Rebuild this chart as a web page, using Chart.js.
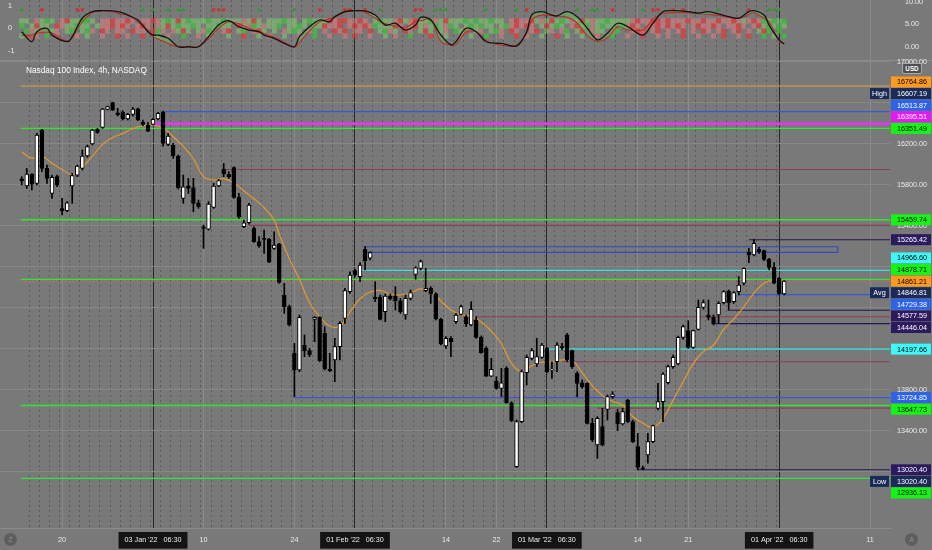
<!DOCTYPE html>
<html lang="pt-BR">
<head>
<meta charset="utf-8">
<title>Nasdaq 100 Index, 4h</title>
<script src="https://cdn.jsdelivr.net/npm/chart.js@4.4.1/dist/chart.umd.min.js"></script>
<style>
  html, body { margin:0; padding:0; width:932px; height:550px; overflow:hidden; background:#797979; font-family:'Liberation Sans', Arial, sans-serif; }
  canvas { position:absolute; left:0; }
  #osc { top:0; }
  #main { top:50px; }
  #sep { position:absolute; left:0; top:60px; width:932px; height:1px; background:#8c8c8c; }
  #titulo { position:absolute; left:26px; top:65px; color:#fff; font-size:8.3px; line-height:10px; white-space:nowrap; }
  #usd { position:absolute; left:902px; top:63px; width:18px; height:9px; border:1px solid #a9a9a9; border-radius:2px; background:#505050; color:#fff; font-size:6.3px; font-weight:bold; line-height:9px; text-align:center; }
  .ico { position:absolute; width:13px; height:13px; border-radius:50%; background:#5e5e5e; color:#8f8f8f; font-size:7px; line-height:13px; text-align:center; }
</style>
</head>
<body>
<canvas id="osc" width="932" height="60"></canvas>
<div id="sep"></div>
<canvas id="main" width="932" height="500"></canvas>
<div id="titulo">Nasdaq 100 Index, 4h, NASDAQ</div>
<div id="usd">USD</div>
<div class="ico" style="left:4px;top:533px">Z</div>
<div class="ico" style="left:905px;top:533px">A</div>
<script>
// --- Candles de 4h, índice = número da barra ---
const abertura = [
  15860,15789,15903,15815,16335,15961,15717,15880,15568,15548,
  15789,15896,15961,16082,16199,16342,16361,16537,16602,16504,
  16508,16443,16488,16543,16410,16384,16390,16443,16511,16195,
  16189,16082,15669,15789,15773,15626,15392,15369,15581,15789,
  15955,15903,15968,15678,15392,15431,15376,15246,15278,15269,
  15181,15223,14726,14612,14156,13994,14235,14183,14488,14508,
  14352,14004,14092,14222,14498,14758,14963,14905,15171,15084,
  14703,14703,14563,14716,14716,14670,14531,14693,14927,14986,
  14768,14791,14736,14492,14228,14303,14466,14537,14514,14433,
  14482,14313,14205,13935,13887,13815,14010,13675,13051,13490,
  13968,14108,14053,14118,14205,13994,14075,14222,14336,14183,
  13962,13870,13864,13474,13262,13441,13610,13734,13578,13467,
  13701,13490,13246,13040,13165,13295,13620,13685,13870,14027,
  14053,14313,14378,14215,14391,14605,14531,14508,14531,14651,
  14765,14661,14758,14840,15142,15116,15175,15158,15074,14996,
  14888,14736
];
const maxima = [
  15880,15961,15912,16303,16342,15994,15896,15896,15669,15636,
  15912,15994,16140,16189,16342,16351,16547,16569,16607.19,16547,
  16524,16498,16556,16550,16433,16407,16449,16508,16521,16303,
  16205,16092,15896,15864,15864,15652,15408,15636,15815,15854,
  16010,15929,15977,15717,15457,15620,15392,15295,15360,15278,
  15343,15230,14839,14628,14254,14530,14336,14205,14514,14514,
  14417,14157,14303,14466,14791,14953,14976,15041,15197,15148,
  14856,14726,14736,14736,14807,14693,14726,14775,15002,15067,
  14986,14807,14749,14498,14319,14319,14547,14628,14531,14661,
  14514,14326,14222,14108,13929,14010,14027,13685,13506,13994,
  14140,14205,14303,14254,14215,14075,14261,14254,14352,14189,
  13978,13897,13870,13522,13539,13620,13750,13783,13610,13620,
  13708,13506,13376,13058,13376,13457,13864,13968,14043,14140,
  14326,14433,14475,14384,14677,14677,14677,14531,14661,14768,
  14775,14758,14905,14992,15181,15265.42,15191,15165,15083,15041,
  14898,14866
];
const minima = [
  15799,15766,15750,15799,15929,15815,15669,15782,15506,15538,
  15620,15880,15945,16069,16189,16303,16351,16530,16524,16472,
  16433,16433,16472,16426,16378,16319,16384,16433,16179,16182,
  16059,15760,15620,15717,15538,15571,15181,15360,15571,15782,
  15880,15864,15669,15473,15382,15418,15239,15191,15132,15041,
  15171,14839,14547,14423,13734,13978,14124,14124,14270,14075,
  13994,13978,13880,14092,14449,14742,14905,14856,14970,15067,
  14661,14482,14466,14677,14579,14547,14488,14677,14879,14970,
  14758,14644,14482,14238,14205,14124,14449,14531,14417,14423,
  14303,14157,13929,13929,13806,13734,13669,13490,13044,13480,
  13848,14092,14027,14108,13968,13913,13978,14189,14075,14010,
  13734,13815,13467,13295,13132,13253,13506,13718,13402,13457,
  13480,13285,13020.40,13020.40,13084,13285,13604,13490,13858,14010,
  14043,14293,14205,14205,14384,14586,14482,14433,14449,14638,
  14579,14644,14726,14823,15041,15106,15132,15061,14970,14833,
  14726,14726
];
const fechamento = [
  15840,15906,15808,16286,15961,15864,15873,15799,15548,15626,
  15890,15984,16082,16173,16335,16312,16540,16563,16530,16485,
  16443,16488,16540,16433,16390,16325,16439,16498,16205,16277,
  16082,15773,15782,15766,15620,15587,15376,15613,15789,15841,
  15906,15880,15678,15490,15431,15604,15246,15204,15269,15047,
  15213,14849,14612,14433,13994,14508,14183,14144,14508,14085,
  14004,13988,14222,14449,14768,14921,14921,15018,15061,15139,
  14690,14488,14716,14690,14670,14563,14693,14749,14992,15051,
  14791,14736,14492,14248,14303,14270,14531,14612,14443,14586,
  14313,14163,13935,14001,13815,13870,13675,13500,13490,13978,
  14118,14183,14124,14238,13978,14001,14238,14209,14092,14027,
  13864,13831,13474,13311,13522,13262,13734,13760,13467,13588,
  13490,13295,13044,13030,13295,13451,13685,13955,14027,14118,
  14313,14417,14215,14378,14605,14651,14508,14443,14644,14758,
  14651,14749,14823,14986,15116,15230,15148,15074,14996,14840,
  14736,14861.21
];

// média móvel laranja (barra, valor)
const emaBarra = [0,2,4,6,8,10,12,14,16,18,20,22,24,26,28,30,32,34,36,38,40,42,44,46,48,50,51,53,55,57,59,61,63,65,67,69,71,73,75,77,79,81,83,85,87,89,91,93,95,97,99,101,103,105,107,109,111,113,115,117,119,121,123,125,127,129,131,133,135,137,139,141,143,145,147,149,151];
const emaValor = [16124,16060,16080,16010,15950,15900,15975,16080,16195,16262,16300,16348,16378,16382,16355,16270,16175,16055,15880,15847,15862,15820,15740,15665,15578,15455,15320,15080,14878,14650,14514,14423,14420,14560,14690,14755,14770,14732,14726,14745,14785,14758,14668,14580,14535,14518,14462,14372,14250,14060,13975,14035,14068,14075,14092,14090,13965,13842,13745,13688,13653,13540,13475,13435,13520,13700,13880,14059,14173,14238,14390,14490,14610,14745,14840,14872,14856];

// níveis horizontais: preço, barra de início, tipo
const nivelPreco  = [16764.86, 16513.87, 16395.51, 16351.49, 15950, 15459.74, 15405, 15265.42, 14966.60, 14878.71, 14861.21, 14729.38, 14577.59, 14514, 14446.04, 14197.66, 14075, 13724.85, 13647.73, 13622, 13020.40, 12936.13];
const nivelInicio = [-0.2, 28, 26, -0.2, 40, -0.2, 45, 144, 67, -0.2, -0.2, 142, 140, 90, 137, 104, 107, 54, -0.2, 114, 122, -0.2];
const nivelTipo   = ['laranja','azul','magenta','verde','vinho','verde','vinho','roxo','ciano','verde','atual','azul','roxo','vinho','roxo','ciano','vinho','azul','verde','vinho','roxo','verde'];

// retângulo azul (barras e preços)
const caixaBarras = [68, 161.6];
const caixaPrecos = [15197, 15142];

// etiquetas da escala de preço
const etiquetaPreco = [16764.86, 16607.19, 16513.87, 16395.51, 16351.49, 15459.74, 15265.42, 14966.60, 14878.71, 14861.21, 14846.81, 14729.38, 14577.59, 14446.04, 14197.66, 13724.85, 13647.73, 13020.40, 13020.40, 12936.13];
const etiquetaTipo  = ['laranja','marinho','azul','magenta','verde','verde','roxo','ciano','verde','laranja','marinho','azul','roxo','roxo','ciano','azul','verde','roxo','marinho','verde'];
const etiquetaTag   = ['', 'High', '', '', '', '', '', '', '', '', 'Avg', '', '', '', '', '', '', '', 'Low', ''];
const precoAtual = 14861.21;

// eixos
const yTicks = [13000, 13400, 13800, 14200, 14600, 15000, 15400, 15800, 16200, 16600, 17000];
const xTickIdx = [8, 26, 36, 54, 66, 84, 94, 104, 122, 132, 150, 168];
const xTickTexto = ['20', "03 Jan '22   06:30", '10', '24', "01 Feb '22   06:30", '14', '22', "01 Mar '22   06:30", '14', '21', "01 Apr '22   06:30", '11'];
const mesIdx = [26, 66, 104, 150];
const oscTicksEsq = [-1, 0, 1];
const oscTicksDir = [0, 5, 10];

// oscilador (barra, linha rápida, linha lenta)
const oscBarra  = [0,2,3,5,6,9,10,12,14,16,18,20,21,23,25,26,27,29,31,33,35,37,39,41,43,45,47,48,50,52,54,55,57,59,61,62,64,66,68,70,72,74,76,78,79,81,83,85,86,88,90,92,95,98,100,101,103,105,106,108,110,112,114,116,118,120,123,125,127,129,132,134,136,138,140,142,144,145,147,148,150,151];
const oscRapida = [-0.14,-0.58,-0.14,0.01,-0.29,-0.58,-0.36,0.45,0.74,0.78,0.77,0.69,0.59,0.37,-0.14,-0.29,-0.29,-0.43,-0.8,-0.8,-0.8,-0.36,0.15,0.34,0.08,-0.07,-0.14,-0.29,-0.43,-0.65,-0.8,-0.36,0.08,0.37,0.3,0.52,0.74,0.78,0.77,0.59,0.15,0.23,-0.07,0.15,0.49,0.37,-0.29,-0.72,-0.58,0.01,-0.14,-0.58,-0.65,-0.77,-0.14,0.59,0.74,0.59,0.55,0.74,0.52,0.01,-0.5,-0.21,0.23,0.08,-0.29,0.23,0.74,0.78,0.74,0.67,0.74,0.64,0.52,0.45,0.74,0.78,0.59,0.15,-0.5,-0.68];
const oscLenta  = [-0.3,-0.3,-0.2,-0.15,-0.2,-0.55,-0.4,0.3,0.7,0.78,0.74,0.62,0.6,0.3,-0.1,-0.35,-0.45,-0.65,-0.8,-0.8,-0.8,-0.45,0.02,0.3,0.2,0.02,-0.15,-0.22,-0.4,-0.6,-0.83,-0.6,-0.1,0.3,0.42,0.5,0.72,0.78,0.72,0.45,0.2,0.12,0.05,0.3,0.35,0.4,-0.55,-0.72,-0.7,-0.15,-0.15,-0.55,-0.72,-0.72,-0.2,0.4,0.6,0.57,0.55,0.5,0.25,-0.3,-0.55,-0.4,0.08,-0.05,-0.07,0.4,0.66,0.7,0.7,0.66,0.62,0.59,0.5,0.45,0.62,0.7,0.45,0.3,-0.55,-0.65];
const marcaAlta  = [0,24,26,29,31,32,47,54,71,82,83,84,92,98,110,113,114,123,138,148,149,150];
const marcaBaixa = [4,11,12,38,39,40,59,64,65,68,78,79,100,117,125,126,129,131,144];
// mapa de calor (G/g verde, R/r vermelho, . vazio), uma letra por barra
const heatLinhas = [
  ['gg.rgGg.rR','ggGGg.rrRr','rRr.rrRrgG','gRgGgggGgg','GgggrgRg.g','ggGgg.gGgg','gRrRRrrRr.','gGggrRgrRg','gGrgRgggGg','GggGgg.rRr','rRgrgRgGgr','gRgrggGggg','grRrrRRrRr','rrRrrRrrRr','rRrgrRrGgG','gG'].join(''),
  ['G.gRgg.Rrg','gGgg.grrRr','Rr.rRr.rgR','gGggGg.ggG','gg.RgrGgrg','gG.ggGg.gg','RrrR.rRrRr','GgggRr.gRg','rgGgrGg.gG','gGgg.gGrRr','Rr.gRgGg.r','RgGrgGgg.G','rRr.rrRrRr','Rr.rRrrRr.','rrRr.rRgGg','Gg'].join(''),
  ['.GrgR.gr.g','G.gGr.Rr.r','r.Rrr.RGr.','rgRg.grGg.','rR.gG.rRg.','g.rgGg.rG.','r.RrR.rr.R','.gGrg.Rr.g','Rg.gr.GgR.','gr.gGr.Rr.','.rR.gr.rG.','gR.rgg.rG.','.rRr.rR.r.','rR.r.Rr.rR','.rR.r.gRG.','G.'].join(''),
  ['g..r.G.r..','.r.g..r..R','.r..R..g.r','..G..r.g..','.g..R..g.r','..g..r..G.','.r..r.R..r','..g.r..G..','.R..g..r.g','..G..r..R.','r..g..R.g.','.g..r..G..','r..R..r.r.','.R..r..r.R','..r.R..G.g','.G'].join('')
];

// ---- estilos ----
const FONTE = "'Liberation Sans', Arial, sans-serif";
const X_MIN = -4.3, X_MAX = 171.95;
const Y_MIN = 12452.6, Y_MAX = 17018.5;
const estilo = {
  laranja: { linha:'#dba348', fundo:'#ff9a1f', texto:'#000', largura:1.2 },
  azul:    { linha:'#3558d6', fundo:'#2d62ea', texto:'#fff', largura:1.2 },
  magenta: { linha:'#db3aee', fundo:'#e01cf3', texto:'#fff', largura:3 },
  verde:   { linha:'#30e830', fundo:'#14f514', texto:'#000', largura:1.3 },
  vinho:   { linha:'#8c3f52', largura:1.1 },
  roxo:    { linha:'#25184f', fundo:'#2b1a5e', texto:'#fff', largura:1.1 },
  ciano:   { linha:'#38e0e0', fundo:'#40f7f7', texto:'#000', largura:1.3 },
  atual:   { linha:'#e4684f', tracejado:[1.5, 2.5], largura:1.1 },
  marinho: { fundo:'#1b2b57', texto:'#fff' }
};
const corHeat = { G:'rgba(55,200,55,0.7)', g:'rgba(125,215,110,0.5)', R:'rgba(232,55,55,0.7)', r:'rgba(238,125,125,0.5)' };
const heatNivel = [0.33, 0.11, -0.11, -0.33];
const nivelMarca = 0.82;
const TRANSP = 'rgba(0,0,0,0)';

Chart.defaults.font.family = FONTE;
Chart.defaults.color = '#ececec';

// separadores de pregão: 2 barras de 4h por dia
const divisoriasDia = [];
for (let i = 2; i < abertura.length; i += 2) divisoriasDia.push(i - 0.5);

// sem folga automática em volta das escalas
function semFolga(s) { s.paddingTop = 0; s.paddingBottom = 0; s.paddingLeft = 0; s.paddingRight = 0; }

function corGradeX(c) {
  const v = c.tick ? c.tick.value : null;
  if (mesIdx.includes(v)) return '#262626';
  if (xTickIdx.includes(v)) return '#8a8a8a';
  return TRANSP;
}

function eixoX(comRotulos) {
  return {
    type: 'linear', min: X_MIN, max: X_MAX, bounds: 'data', offset: false,
    afterBuildTicks: s => { s.ticks = xTickIdx.map(v => ({ value: v })); },
    afterFit: s => { s.height = comRotulos ? 22 : 0; semFolga(s); },
    ticks: {
      display: comRotulos, autoSkip: false, maxRotation: 0, padding: 8,
      color: '#ececec', font: { size: 7.2 },
      callback: v => { const k = xTickIdx.indexOf(v); return k >= 0 ? xTickTexto[k] : ''; },
      showLabelBackdrop: c => !!(c.tick && mesIdx.includes(c.tick.value)),
      backdropColor: '#141414', backdropPadding: { left: 6, right: 6, top: 4, bottom: 4 }
    },
    grid: { color: corGradeX, drawTicks: false, offset: false },
    border: { display: comRotulos, color: '#8c8c8c' }
  };
}
function eixoDia() {
  return {
    type: 'linear', min: X_MIN, max: X_MAX, bounds: 'data', offset: false, position: 'bottom',
    afterBuildTicks: s => { s.ticks = divisoriasDia.map(v => ({ value: v })); },
    afterFit: s => { s.height = 0; semFolga(s); },
    ticks: { display: false },
    grid: { color: c => (c.tick && divisoriasDia.includes(c.tick.value)) ? '#5a5a5a' : TRANSP, drawTicks: false, offset: false, z: -2 },
    border: { display: false, dash: [2, 3] }
  };
}

// ---- Gráfico principal ----
const barras = abertura.map((_, i) => i);
const datasetsNivel = nivelPreco.map((p, k) => {
  const st = estilo[nivelTipo[k]];
  return {
    type: 'line', label: 'nivel' + k,
    data: [{ x: nivelInicio[k], y: p }, { x: X_MAX, y: p }],
    borderColor: st.linha, borderWidth: st.largura || 1, borderDash: st.tracejado || [],
    pointRadius: 0, order: 6
  };
});

const etiquetasPlugin = {
  id: 'etiquetas',
  afterDraw(chart) {
    const { ctx, chartArea } = chart;
    const ys = chart.scales.y;
    const h = 11.6;
    const itens = etiquetaPreco.map((p, i) => ({ p, i, y: ys.getPixelForValue(p) }));
    const yAtual = ys.getPixelForValue(precoAtual);
    const acima = itens.filter(it => it.p > precoAtual).sort((a, b) => a.p - b.p);
    const abaixo = itens.filter(it => it.p < precoAtual).sort((a, b) => (b.p - a.p) || (a.i - b.i));
    let ref = yAtual;
    acima.forEach(it => { it.y = Math.min(it.y, ref - h); ref = it.y; });
    ref = yAtual;
    abaixo.forEach(it => { it.y = Math.max(it.y, ref + h); ref = it.y; });

    ctx.save();
    ctx.font = '7.2px ' + FONTE;
    ctx.textBaseline = 'middle';
    const x0 = chartArea.right + 1;
    itens.forEach(it => {
      const st = estilo[etiquetaTipo[it.i]];
      ctx.fillStyle = st.fundo;
      ctx.fillRect(x0, it.y - h / 2 + 0.3, chart.width - x0 - 1, h - 0.6);
      ctx.fillStyle = st.texto;
      ctx.textAlign = 'left';
      ctx.fillText(it.p.toFixed(2), x0 + 6, it.y + 0.5);
      const tag = etiquetaTag[it.i];
      if (tag) {
        ctx.fillStyle = st.fundo;
        ctx.fillRect(chartArea.right - 20, it.y - h / 2 + 0.3, 19, h - 0.6);
        ctx.fillStyle = '#fff';
        ctx.textAlign = 'center';
        ctx.fillText(tag, chartArea.right - 10.5, it.y + 0.5);
      }
    });
    ctx.restore();
  }
};

new Chart(document.getElementById('main'), {
  type: 'bar',
  data: {
    datasets: [
      {
        label: 'corpo',
        data: barras.map(i => ({ x: i, y: [abertura[i], fechamento[i]] })),
        backgroundColor: barras.map(i => fechamento[i] >= abertura[i] ? '#ffffff' : '#000000'),
        borderColor: '#000', borderWidth: 1, borderSkipped: false,
        barThickness: 3.8, grouped: false, order: 1
      },
      {
        label: 'pavio',
        data: barras.map(i => ({ x: i, y: [minima[i], maxima[i]] })),
        backgroundColor: '#000', barThickness: 1, grouped: false, order: 2
      },
      {
        type: 'line', label: 'EMA',
        data: emaBarra.map((b, k) => ({ x: b, y: emaValor[k] })),
        borderColor: '#e59a2c', borderWidth: 1.2, pointRadius: 0, tension: 0.4, order: 4
      },
      {
        type: 'line', label: 'caixa',
        data: [
          { x: caixaBarras[0], y: caixaPrecos[0] }, { x: caixaBarras[1], y: caixaPrecos[0] },
          { x: caixaBarras[1], y: caixaPrecos[1] }, { x: caixaBarras[0], y: caixaPrecos[1] }
        ],
        borderColor: '#3048c0', borderWidth: 1.1, pointRadius: 0, order: 5
      },
      ...datasetsNivel
    ]
  },
  options: {
    responsive: false, animation: false, devicePixelRatio: 1, events: [],
    layout: { autoPadding: false, padding: { top: 10, left: 0, right: 0, bottom: 0 } },
    plugins: { legend: { display: false }, tooltip: { enabled: false } },
    scales: {
      x: eixoX(true),
      xd: eixoDia(),
      y: {
        position: 'right', min: Y_MIN, max: Y_MAX, bounds: 'data',
        afterBuildTicks: s => { s.ticks = yTicks.map(v => ({ value: v })); },
        afterFit: s => { s.width = 42; semFolga(s); },
        ticks: { color: '#ececec', font: { size: 7.2 }, padding: 7, callback: v => Number(v).toFixed(2) },
        grid: { color: '#878787', drawTicks: false },
        border: { display: false }
      }
    }
  },
  plugins: [etiquetasPlugin]
});

// ---- Oscilador (painel de cima) ----
const pontosHeat = [], coresHeat = [];
heatLinhas.forEach((linha, r) => {
  for (let i = 0; i < linha.length; i++) {
    const c = linha[i];
    if (c === '.') continue;
    pontosHeat.push({ x: i, y: heatNivel[r] });
    coresHeat.push(corHeat[c]);
  }
});
const marcas = [...marcaAlta.map(b => ({ x: b, y: nivelMarca })), ...marcaBaixa.map(b => ({ x: b, y: nivelMarca }))];
const corMarcas = [...marcaAlta.map(() => '#2f9a2f'), ...marcaBaixa.map(() => '#d42a2a')];
const rotMarcas = [...marcaAlta.map(() => 0), ...marcaBaixa.map(() => 180)];

new Chart(document.getElementById('osc'), {
  type: 'line',
  data: {
    datasets: [
      {
        label: 'rapida',
        data: oscBarra.map((b, k) => ({ x: b, y: oscRapida[k] })),
        borderColor: '#141414', borderWidth: 1.3, pointRadius: 0, tension: 0.35, yAxisID: 'yl',
        fill: { target: '+1', above: 'rgba(95,200,95,0.45)', below: 'rgba(225,75,75,0.45)' },
        order: 1
      },
      {
        label: 'lenta',
        data: oscBarra.map((b, k) => ({ x: b, y: oscLenta[k] })),
        borderColor: '#bf2222', borderWidth: 1.2, pointRadius: 0, tension: 0.35, yAxisID: 'yl',
        fill: false, order: 2
      },
      {
        type: 'scatter', label: 'calor', data: pontosHeat, yAxisID: 'yl',
        pointStyle: 'rect', pointRadius: 3.6, pointBorderWidth: 0,
        pointBackgroundColor: coresHeat, order: 5
      },
      {
        type: 'scatter', label: 'sinais', data: marcas, yAxisID: 'yl',
        pointStyle: 'triangle', pointRadius: 2.6, pointBorderWidth: 0,
        pointBackgroundColor: corMarcas, pointRotation: rotMarcas, order: 3
      }
    ]
  },
  options: {
    responsive: false, animation: false, devicePixelRatio: 1, events: [],
    layout: { autoPadding: false, padding: 0 },
    plugins: { legend: { display: false }, tooltip: { enabled: false } },
    scales: {
      x: eixoX(false),
      xd: eixoDia(),
      yl: {
        position: 'left', min: -1.382, max: 1.25, bounds: 'data',
        afterBuildTicks: s => { s.ticks = oscTicksEsq.map(v => ({ value: v })); },
        afterFit: s => { s.width = 0; semFolga(s); },
        ticks: { mirror: true, padding: 8, color: '#ececec', font: { size: 7.2 } },
        grid: { display: false }, border: { display: false }
      },
      yr: {
        position: 'right', min: -2.98, max: 10.45, bounds: 'data',
        afterBuildTicks: s => { s.ticks = oscTicksDir.map(v => ({ value: v })); },
        afterFit: s => { s.width = 42; semFolga(s); },
        ticks: { padding: 7, color: '#ececec', font: { size: 7.2 }, callback: v => Number(v).toFixed(2) },
        grid: { display: false }, border: { display: false }
      }
    }
  }
});
</script>
</body>
</html>
